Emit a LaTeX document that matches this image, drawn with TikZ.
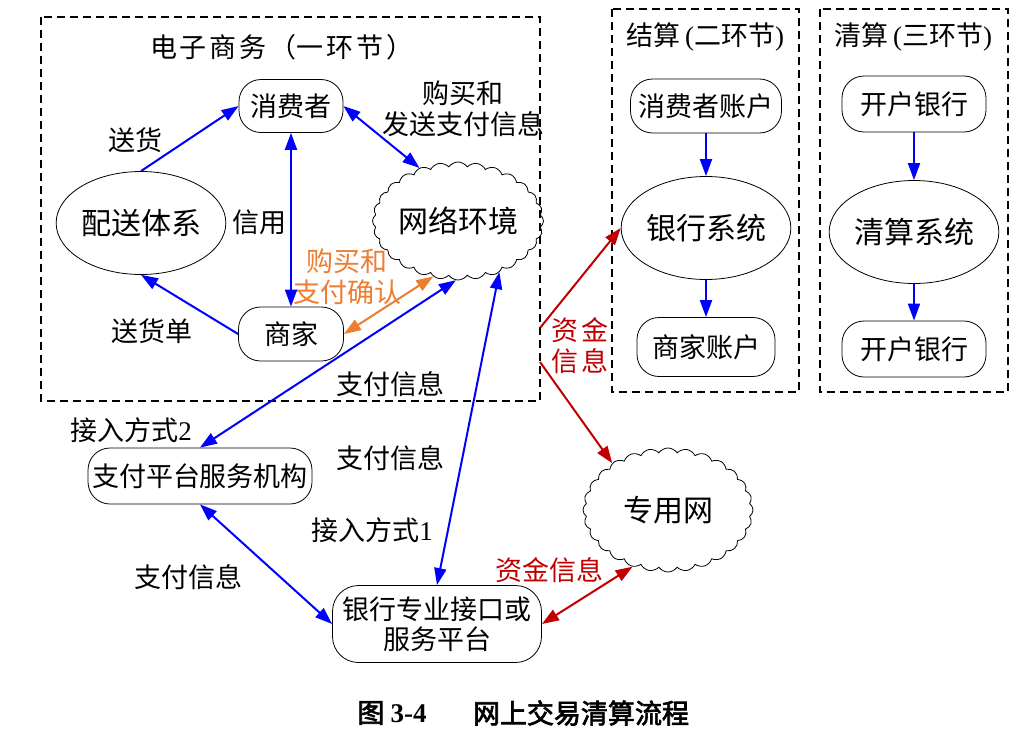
\documentclass[tikz,border=0pt]{standalone}
\usepackage{fontspec}
\setmainfont{Noto Sans CJK SC}[AutoFakeBold=2.5]
\newfontfamily\tnr{Liberation Serif}
\usetikzlibrary{shapes.geometric,shapes.symbols,arrows.meta}
\definecolor{myblue}{RGB}{0,0,255}
\definecolor{myred}{RGB}{192,0,0}
\definecolor{myorange}{RGB}{237,125,49}
\newcommand{\gp}{\hspace{3pt}}
\begin{document}
\begin{tikzpicture}[x=1pt,y=-1pt,
  every node/.style={font=\fontsize{27}{31}\selectfont, inner sep=0pt},
  big/.style={font=\fontsize{30}{34}\selectfont},
  rbox/.style={draw, line width=0.8pt, rounded corners=22pt, align=center},
  ell/.style={draw, ellipse, line width=0.8pt, big},
  cld/.style={draw, cloud, cloud puffs=28, cloud puff arc=110, cloud ignores aspect, line width=0.8pt, big},
  frame/.style={line width=2pt, dash pattern=on 8pt off 5pt},
  bl/.style={draw=myblue, line width=2pt, -{Triangle[length=17pt,width=12pt]}},
  bbl/.style={draw=myblue, line width=2pt, {Triangle[length=17pt,width=12pt]}-{Triangle[length=17pt,width=12pt]}},
  rl/.style={draw=myred, line width=2pt, -{Triangle[length=17pt,width=12pt]}},
  brl/.style={draw=myred, line width=2pt, {Triangle[length=17pt,width=12pt]}-{Triangle[length=17pt,width=12pt]}},
  bol/.style={draw=myorange, line width=2pt, {Triangle[length=17pt,width=12pt]}-{Triangle[length=17pt,width=12pt]}},
  lbl/.style={align=center},
  rlbl/.style={align=center, text=myred},
  olbl/.style={align=center, text=myorange}
]
\path[use as bounding box, fill=white] (0,0) rectangle (1026,736);

% frames
\draw[frame] (41,17) rectangle (540,401);
\draw[frame] (612,9) rectangle (799,392);
\draw[frame] (820,9) rectangle (1008,392);

% titles
\node[lbl] (t1) at (282,47) {电\gp 子\gp 商\gp 务\gp （一\gp 环\gp 节\gp ）};
\node[lbl] (t2) at (705,37) {结算\hspace{5pt}{\tnr (}二环节{\tnr )}};
\node[lbl] (t3) at (913,37) {清算\hspace{5pt}{\tnr (}三环节{\tnr )}};

% nodes of e-commerce
\node[rbox, minimum width=104pt, minimum height=53pt] (cons) at (291,106) {消费者};
\node[ell, minimum width=150pt, minimum height=103pt] (ps) at (141,223) {配送体系};
\node[rbox, minimum width=105pt, minimum height=54pt] (merc) at (291,334) {商家};
\node[cld, minimum width=150pt, minimum height=118pt] (net) at (458,221) {网络环境};

% lower nodes
\node[rbox, minimum width=224pt, minimum height=56pt] (pay) at (200,476) {支付平台服务机构};
\node[rbox, rounded corners=26pt, minimum width=209pt, minimum height=77pt, font=\fontsize{27}{30}\selectfont] (bank) at (437,624) {银行专业接口或\\服务平台};
\node[cld, minimum width=170pt, minimum height=124pt] (pn) at (668,510) {专用网};

% settlement
\node[rbox, minimum width=151pt, minimum height=54pt] (ca) at (706,106) {消费者账户};
\node[ell, minimum width=151pt, minimum height=103pt] (bs) at (706,228) {银行系统};
\node[rbox, minimum width=138pt, minimum height=59pt] (ma) at (706,347) {商家账户};

% clearing
\node[rbox, minimum width=144pt, minimum height=56pt] (ob1) at (914,104) {开户银行};
\node[ell, minimum width=152pt, minimum height=103pt] (cs) at (914,232) {清算系统};
\node[rbox, minimum width=144pt, minimum height=56pt] (ob2) at (914,349) {开户银行};

% labels
\node[lbl] (l1) at (135,140) {送货};
\node[lbl] (l2) at (259,222) {信用};
\node[lbl] (l3) at (152,331) {送货单};
\node[lbl] (l4) at (463,109) {购买和\\发送支付信息};
\node[olbl] (l5) at (347,277) {购买和\\支付确认};
\node[lbl] (l6) at (390,384) {支付信息};
\node[lbl] (l7) at (390,458) {支付信息};
\node[lbl] (l8) at (372,530) {接入方式{\tnr 1}};
\node[lbl] (l9) at (131,430) {接入方式{\tnr 2}};
\node[lbl] (l10) at (188,577) {支付信息};
\node[rlbl] (l11) at (580,346) {资\gp 金\\信\gp 息};
\node[rlbl] (l12) at (549,570) {资金信息};

% caption
\node[font=\fontsize{27}{30}\selectfont\bfseries] (cap1) at (392,713) {图 {\tnr\bfseries 3-4}};
\node[font=\fontsize{27}{30}\selectfont\bfseries] (cap2) at (581,713) {网上交易清算流程};

% connectors
\draw[bl] (ps.north) -- (cons.west);
\draw[bl] (merc.west) -- (ps.south);
\draw[bbl] (cons.south) -- (merc.north);
\draw[bbl] (cons.east) -- (net.126);
\draw[bol] (merc.east) -- (net.246);
\draw[bbl] (net.268) -- (pay.north);
\draw[bbl] (net.309) -- (bank.north);
\draw[bbl] (pay.south) -- (bank.west);
\draw[bl] (ca.south) -- (bs.north);
\draw[bl] (bs.south) -- (ma.north);
\draw[bl] (ob1.south) -- (cs.north);
\draw[bl] (cs.south) -- (ob2.north);
\coordinate (r1) at (540,328);
\coordinate (r2) at (540,362);
\draw[rl] (r1) -- (bs.west);
\draw[rl] (r2) -- (pn.140);
\draw[brl] (bank.east) -- (pn.238);
\end{tikzpicture}
\end{document}
